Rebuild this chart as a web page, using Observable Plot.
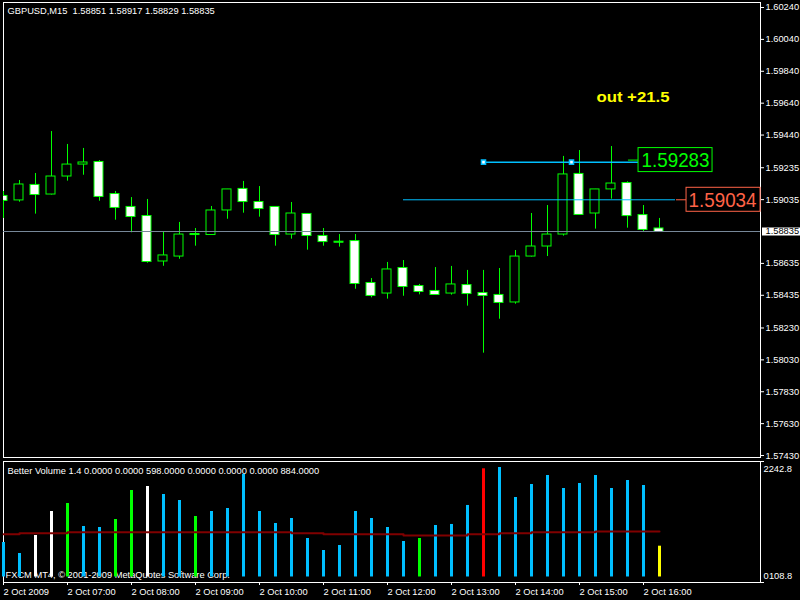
<!DOCTYPE html>
<html>
<head>
<meta charset="utf-8">
<script src="https://cdn.jsdelivr.net/npm/d3@7"></script>
<script src="https://cdn.jsdelivr.net/npm/@observablehq/plot@0.6"></script>
<style>
html, body { margin: 0; padding: 0; background: #000; }
#chart { width: 800px; height: 600px; background: #000; overflow: hidden; }
#chart svg { display: block; }
#chart text { white-space: pre; }
</style>
</head>
<body>
<div id="chart"></div>
<script>
// ---------- data ----------
const symbolTitle = "GBPUSD,M15  1.58851 1.58917 1.58829 1.58835";
const indicatorTitle = "Better Volume 1.4 0.0000 0.0000 598.0000 0.0000 0.0000 0.0000 884.0000";
const copyrightText = "FXCM MT4, \u00a9 2001-2009 MetaQuotes Software Corp.";

const open = [1.59055,1.59030,1.59124,1.59067,1.59180,1.59255,1.59268,1.59067,1.58986,1.58929,1.58647,1.58678,1.58816,1.58813,1.58967,1.59099,1.59017,1.58986,1.58816,1.58942,1.58804,1.58768,1.58772,1.58509,1.58446,1.58603,1.58490,1.58459,1.58446,1.58496,1.58446,1.58434,1.58390,1.58678,1.58741,1.58816,1.59193,1.58948,1.59099,1.59136,1.58935,1.58851];
const high = [1.59086,1.59155,1.59199,1.59462,1.59381,1.59356,1.59280,1.59086,1.59048,1.59036,1.58835,1.58892,1.58854,1.58992,1.59099,1.59149,1.59117,1.58986,1.59017,1.58948,1.58854,1.58816,1.58816,1.58540,1.58641,1.58653,1.58503,1.58609,1.58616,1.58591,1.58591,1.58603,1.58716,1.58948,1.58998,1.59306,1.59343,1.59099,1.59368,1.59147,1.58998,1.58917];
const low = [1.58917,1.59019,1.58944,1.59064,1.59151,1.59188,1.59025,1.58906,1.58827,1.58636,1.58617,1.58661,1.58743,1.58812,1.58912,1.58950,1.58925,1.58743,1.58787,1.58718,1.58743,1.58737,1.58473,1.58419,1.58411,1.58429,1.58438,1.58438,1.58436,1.58367,1.58072,1.58285,1.58379,1.58675,1.58678,1.58806,1.58939,1.58850,1.59038,1.58856,1.58829,1.58829];
const close = [1.59030,1.59130,1.59067,1.59180,1.59255,1.59268,1.59055,1.58986,1.58929,1.58647,1.58685,1.58816,1.58816,1.58967,1.59099,1.59023,1.58979,1.58816,1.58948,1.58810,1.58772,1.58768,1.58509,1.58434,1.58597,1.58490,1.58459,1.58440,1.58503,1.58446,1.58434,1.58390,1.58678,1.58741,1.58816,1.59193,1.58942,1.59099,1.59136,1.58935,1.58848,1.58835];

const volume = [670,456,806,1272,1427,981,961,1117,1680,1757,1602,1486,1175,1272,1330,1991,1272,1039,1136,748,515,612,1272,1136,961,689,748,1000,1020,1389,2101,2126,1544,1796,1971,1719,1816,1971,1719,1874,1777,598];
const volumeType = ["Neutral","Neutral","Climax Down","Climax Down","Churn","Neutral","Neutral","Churn","Churn","Climax Down",
  "Neutral","Neutral","Churn","Neutral","Neutral","Neutral","Neutral","Neutral","Neutral","Neutral",
  "Neutral","Neutral","Neutral","Neutral","Neutral","Neutral","Churn","Neutral","Neutral","Neutral",
  "Climax Up","Neutral","Neutral","Neutral","Neutral","Neutral","Neutral","Neutral","Neutral","Neutral",
  "Neutral","Low Volume"];
const volumeMA = [831,851,851,851,870,870,870,870,870,870,870,870,870,870,870,870,870,870,851,851,831,831,831,831,831,806,806,806,806,831,831,851,851,870,870,870,870,884,884,884,884,884];

const priceTicks = [1.60240,1.60040,1.59840,1.59640,1.59440,1.59235,1.59035,1.58835,1.58635,1.58435,1.58230,1.58030,1.57830,1.57630,1.57430];
const timeTickBars = [0,4,8,12,16,20,24,28,32,36,40];
const timeTickLabels = ["2 Oct 2009","2 Oct 07:00","2 Oct 08:00","2 Oct 09:00","2 Oct 10:00","2 Oct 11:00","2 Oct 12:00","2 Oct 13:00","2 Oct 14:00","2 Oct 15:00","2 Oct 16:00"];
const volumeAxisTop = 2242.8;
const volumeAxisLabels = ["2242.8", "0", "108.8"];

const bidPrice = 1.58835;
const levelLinePrice = 1.59034;
const levelLineBars = [25, 42];
const trendLinePrice = 1.59270;
const trendLineBars = [30, 41];
const trendAnchorBars = [30, 35.5, 41];
const labelTexts = ["1.59283", "1.59034"];
const labelPrices = [1.59283, 1.59034];
const labelBars = [39.69, 42.69];
const labelStubBars = [39.06, 42.06];
const outText = "out +21.5";
const outTextBar = 37.06;
const outTextPrice = 1.59677;

// ---------- scales ----------
const priceDomain = [1.574176, 1.602714];
const barDomain = [0, 47.3125];
const volumeDomain = [-107, volumeAxisTop];

const LIME = "#00ff00", SKY = "#00bfff", SALMON = "#ff6347";
const baseStyle = {background: "black", color: "white", fontFamily: "'Liberation Sans', Arial, sans-serif", fontSize: "9.3px"};

const candles = open.map((o, i) => ({bar: i, open: o, high: high[i], low: low[i], close: close[i]}));
const labels = labelTexts.map((t, i) => ({text: t, price: labelPrices[i], bar: labelBars[i], stub: labelStubBars[i]}));
const rows = volume.map((v, i) => ({bar: i, volume: v, type: volumeType[i], ma: volumeMA[i]}));

const main = Plot.plot({
  width: 800, height: 459,
  marginLeft: 3, marginRight: 40, marginTop: 2, marginBottom: 2,
  x: {domain: barDomain, axis: null},
  y: {domain: priceDomain},
  style: baseStyle,
  marks: [
    Plot.frame({stroke: "white"}),
    Plot.text([symbolTitle], {frameAnchor: "top-left", dx: 4, dy: 5, textAnchor: "start", lineAnchor: "top", fill: "white"}),
    Plot.ruleX(candles, {x: "bar", y1: "low", y2: "high", stroke: LIME, clip: true}),
    Plot.rect(candles, {filter: d => d.close > d.open, x1: d => d.bar - 0.3125, x2: d => d.bar + 0.25, y1: "open", y2: "close", fill: "black", stroke: LIME, clip: true}),
    Plot.rect(candles, {filter: d => d.close <= d.open, x1: d => d.bar - 0.3125, x2: d => d.bar + 0.25, y1: "open", y2: "close", insetTop: -0.5, insetBottom: -0.5, fill: "white", stroke: LIME, clip: true}),
    Plot.ruleY([bidPrice], {stroke: "#778899"}),
    Plot.ruleY([levelLinePrice], {x1: levelLineBars[0], x2: levelLineBars[1], stroke: SKY}),
    Plot.line(trendLineBars.map(b => ({bar: b, price: trendLinePrice})), {x: "bar", y: "price", stroke: SKY}),
    Plot.dot(trendAnchorBars, {x: d => d, y: trendLinePrice, symbol: "square", r: 2.3, fill: "white", stroke: SKY}),
    Plot.ruleY([labels[0]], {y: "price", x1: "stub", x2: "bar", stroke: LIME}),
    Plot.ruleY([labels[1]], {y: "price", x1: "stub", x2: "bar", stroke: SALMON}),
    Plot.rect([labels[0]], {x1: "bar", x2: "bar", y1: "price", y2: "price", insetTop: -12, insetBottom: -12, insetRight: -74, fill: "black", stroke: LIME}),
    Plot.rect([labels[1]], {x1: "bar", x2: "bar", y1: "price", y2: "price", insetTop: -12, insetBottom: -12, insetRight: -74, fill: "black", stroke: SALMON}),
    Plot.text([labels[0]], {x: "bar", y: "price", text: "text", dx: 37, fill: LIME, fontSize: 21, textAnchor: "middle", lineAnchor: "middle"}),
    Plot.text([labels[1]], {x: "bar", y: "price", text: "text", dx: 36, fill: SALMON, fontSize: 21, textAnchor: "middle", lineAnchor: "middle"}),
    Plot.text([outText], {x: outTextBar, y: outTextPrice, text: d => d, fill: "yellow", fontSize: 14, fontWeight: "bold", textAnchor: "start", lineAnchor: "middle"}),
    Plot.axisY({anchor: "right", ticks: priceTicks.filter(t => t !== bidPrice), tickFormat: d => d.toFixed(5), tickSize: 3, tickPadding: 2, stroke: "white", fill: "white", label: null}),
    Plot.ruleY([bidPrice], {insetLeft: 759, insetRight: -40, stroke: "white", strokeWidth: 8}),
    Plot.text([bidPrice], {y: d => d, frameAnchor: "right", dx: 5, textAnchor: "start", text: d => d.toFixed(5), fill: "black"})
  ]
});

const vol = Plot.plot({
  width: 800, height: 141,
  marginLeft: 3, marginRight: 40, marginTop: 2, marginBottom: 18,
  x: {domain: barDomain},
  y: {domain: volumeDomain},
  color: {type: "ordinal", domain: ["Neutral","Climax Up","Climax Down","Churn","Low Volume"], range: [SKY, "#ff0000", "#ffffff", LIME, "#ffff00"]},
  style: baseStyle,
  marks: [
    Plot.frame({stroke: "white"}),
    Plot.text([copyrightText], {frameAnchor: "bottom-left", dx: 2, dy: -4.5, textAnchor: "start", lineAnchor: "bottom", fill: "white"}),
    Plot.text([indicatorTitle], {frameAnchor: "top-left", dx: 4, dy: 6, textAnchor: "start", lineAnchor: "top", fill: "white"}),
    Plot.ruleX(rows, {x: "bar", y1: 0, y2: "volume", stroke: "type", strokeWidth: 3}),
    Plot.line(rows, {x: "bar", y: "ma", curve: "step-after", stroke: "#800000", strokeWidth: 2}),
    Plot.axisX({anchor: "bottom", ticks: timeTickBars, tickFormat: d => timeTickLabels[timeTickBars.indexOf(d)], tickSize: 3, tickPadding: 3, textAnchor: "start", stroke: "white", fill: "white", label: null}),
    Plot.axisY({anchor: "right", ticks: [volumeAxisTop, volumeDomain[0]], tickFormat: () => "", tickSize: 3, stroke: "white", label: null}),
    Plot.text([volumeAxisLabels[0]], {frameAnchor: "top-right", dx: 3, dy: 4, textAnchor: "start", lineAnchor: "top", fill: "white"}),
    Plot.text([volumeAxisLabels[1]], {frameAnchor: "bottom-right", dx: 3, dy: -3.5, textAnchor: "start", lineAnchor: "bottom", fill: "white"}),
    Plot.text([volumeAxisLabels[2]], {frameAnchor: "bottom-right", dx: 8.4, dy: -3.5, textAnchor: "start", lineAnchor: "bottom", fill: "white"})
  ]
});

const host = document.getElementById("chart");
host.appendChild(main);
host.appendChild(vol);

d3.select(main).selectAll("text")
  .filter(function () { return labelTexts.includes(this.textContent); })
  .attr("textLength", 68).attr("lengthAdjust", "spacingAndGlyphs");
d3.select(main).selectAll("text")
  .filter(function () { return this.textContent === outText; })
  .attr("textLength", 73).attr("lengthAdjust", "spacingAndGlyphs");
</script>
</body>
</html>
